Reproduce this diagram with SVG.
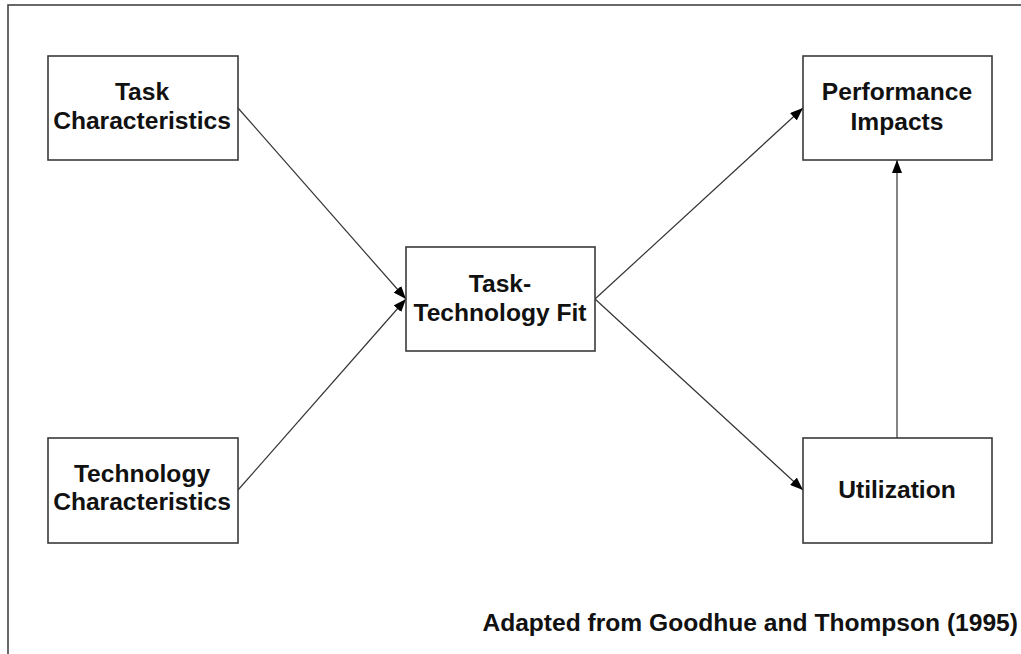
<svg xmlns="http://www.w3.org/2000/svg" width="1021" height="654" viewBox="0 0 1021 654">
<style>
.box{fill:#fff;stroke:#3a3a3a;stroke-width:1.6}
.lbl{font-family:"Liberation Sans",Arial,sans-serif;font-weight:bold;font-size:24.6px;fill:#111;text-anchor:middle}
.con{stroke:#333;stroke-width:1.2;fill:none;marker-end:url(#ah)}
</style>
<defs>
<marker id="ah" markerUnits="userSpaceOnUse" markerWidth="14" markerHeight="10" refX="13" refY="5" orient="auto">
<path d="M0,0 L13,5 L0,10 Z" fill="#000"/>
</marker>
</defs>
<rect x="8" y="5" width="1030" height="670" fill="#fff" stroke="#444" stroke-width="1.6"/>
<g id="connectors">
<line class="con" x1="238" y1="108" x2="406" y2="299"/>
<line class="con" x1="238" y1="490" x2="406" y2="299"/>
<line class="con" x1="595" y1="299" x2="803" y2="108"/>
<line class="con" x1="595" y1="299" x2="803" y2="490"/>
<line class="con" x1="897" y1="438" x2="897" y2="160"/>
</g>
<g id="task">
<rect class="box" x="48" y="56" width="190" height="104"/>
<text class="lbl" x="142" y="100">Task</text>
<text class="lbl" x="142" y="129">Characteristics</text>
</g>
<g id="technology">
<rect class="box" x="48" y="438" width="190" height="105"/>
<text class="lbl" x="142" y="482">Technology</text>
<text class="lbl" x="142" y="510">Characteristics</text>
</g>
<g id="ttf">
<rect class="box" x="406" y="247" width="189" height="104"/>
<text class="lbl" x="500" y="292">Task-</text>
<text class="lbl" x="500" y="321">Technology Fit</text>
</g>
<g id="performance">
<rect class="box" x="803" y="56" width="189" height="104"/>
<text class="lbl" x="897" y="100">Performance</text>
<text class="lbl" x="897" y="130">Impacts</text>
</g>
<g id="utilization">
<rect class="box" x="803" y="438" width="189" height="105"/>
<text class="lbl" x="897" y="498">Utilization</text>
</g>
<text class="lbl" x="1018" y="631" style="text-anchor:end">Adapted from Goodhue and Thompson (1995)</text>
</svg>
